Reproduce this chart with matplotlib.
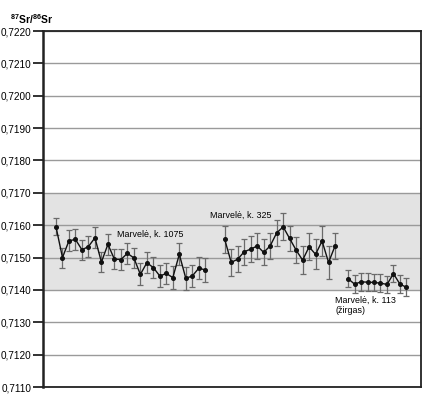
import matplotlib
matplotlib.use('Agg')
import matplotlib.pyplot as plt
import numpy as np

plt.rcParams['font.family'] = ['Liberation Sans', 'DejaVu Sans']
plt.rcParams['mathtext.fontset'] = 'custom'
plt.rcParams['mathtext.rm'] = 'Liberation Sans'
plt.rcParams['mathtext.bf'] = 'Liberation Sans:bold'

# Marvelė, k. 1075
pos_1075 = list(range(0, 24))
val_1075 = [0.71595, 0.71500, 0.71552, 0.71556, 0.71524, 0.71534, 0.71561, 0.71486,
            0.71541, 0.71495, 0.71494, 0.71513, 0.71499, 0.71448, 0.71484, 0.71469,
            0.71443, 0.71451, 0.71438, 0.71510, 0.71436, 0.71443, 0.71467, 0.71462]
err_1075 = [0.00026, 0.00031, 0.00032, 0.00032, 0.00030, 0.00032, 0.00032, 0.00032,
            0.00032, 0.00031, 0.00031, 0.00032, 0.00032, 0.00034, 0.00032, 0.00033,
            0.00033, 0.00032, 0.00036, 0.00034, 0.00035, 0.00034, 0.00034, 0.00036]

# Marvelė, k. 325
pos_325 = list(range(26, 44))
val_325 = [0.71556, 0.71485, 0.71495, 0.71518, 0.71526, 0.71536, 0.71516, 0.71536,
           0.71576, 0.71595, 0.71559, 0.71523, 0.71492, 0.71533, 0.71510, 0.71551,
           0.71485, 0.71536]
err_325 = [0.00041, 0.00042, 0.00041, 0.00040, 0.00040, 0.00041, 0.00040, 0.00040,
           0.00041, 0.00042, 0.00040, 0.00041, 0.00044, 0.00042, 0.00046, 0.00046,
           0.00050, 0.00041]

# Marvelė, k. 113 (žirgas)
pos_113 = list(range(45, 55))
val_113 = [0.71435, 0.71418, 0.71425, 0.71424, 0.71423, 0.71421, 0.71417, 0.71450,
           0.71418, 0.71408]
err_113 = [0.00027, 0.00028, 0.00027, 0.00027, 0.00027, 0.00027, 0.00027, 0.00027,
           0.00027, 0.00028]

yticks = np.arange(0.7110, 0.72201, 0.0010)
band = (0.7140, 0.7170)

fig = plt.figure(figsize=(4.28, 3.99), dpi=100)
ax = fig.add_axes([0.1005, 0.030, 0.8825, 0.8923])

ax.axhspan(band[0], band[1], color='#e3e3e3', zorder=0, lw=0)
for yv in yticks:
    ax.axhline(yv, color='#9a9a9a', lw=1.0, zorder=1)

for pos, val, err in [(pos_1075, val_1075, err_1075),
                      (pos_325, val_325, err_325),
                      (pos_113, val_113, err_113)]:
    ax.errorbar(pos, val, yerr=err, fmt='none', ecolor='#6a6a6a', elinewidth=0.9,
                capsize=2, capthick=0.9, zorder=2)
    ax.plot(pos, val, color='#111111', lw=1.0, marker='o', markersize=2.6, zorder=3)

ax.text(9.4, 0.71572, 'Marvelė, k. 1075', fontsize=6.4, va='center', ha='left')
ax.text(23.7, 0.71630, 'Marvelė, k. 325', fontsize=6.4, va='center', ha='left')
ax.text(43.0, 0.71382, 'Marvelė, k. 113\n(žirgas)', fontsize=6.4, va='top', ha='left',
        linespacing=1.15)

ax.set_xlim(-2, 56.2)
ax.set_ylim(0.7110, 0.7220)
ax.set_xticks([])
ax.set_yticks(yticks)
ax.set_yticklabels([f'{v:.4f}'.replace('.', ',') for v in yticks], fontsize=7.2)
ax.tick_params(axis='y', direction='out', length=7, width=1.3, pad=1.5, color='#222222')
for side in ['left', 'right', 'top', 'bottom']:
    ax.spines[side].set_color('#222222')
    ax.spines[side].set_linewidth(1.3)
ax.spines['left'].set_linewidth(1.8)

fig.text(0.023, 0.951, r'$^{\mathbf{87}}\mathbf{Sr/}^{\mathbf{86}}\mathbf{Sr}$', fontsize=7.4,
         va='center', ha='left')

fig.savefig('out.png', dpi=100, facecolor='white')
